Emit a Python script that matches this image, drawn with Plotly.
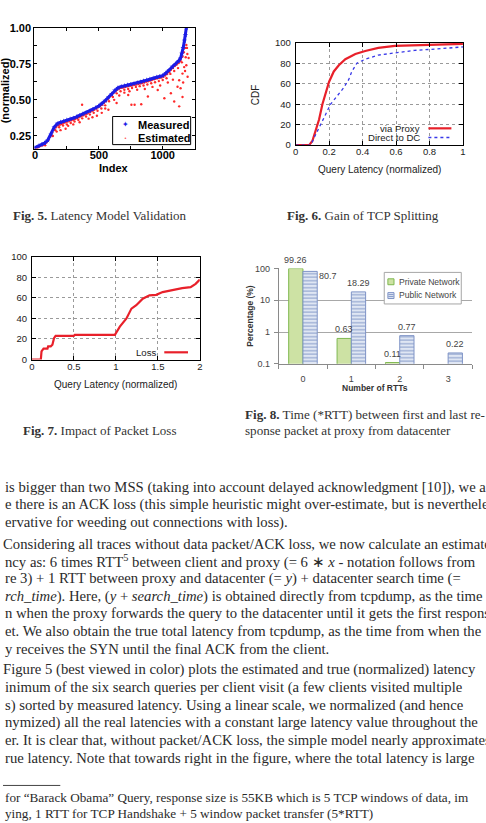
import math
import plotly.graph_objects as go

W, H = 486, 823
def px(x): return x / W
def py(y): return 1 - y / H

# ---------------- Fig. 5 data ----------------
meas_idx = [0, 25, 50, 75, 100, 125, 150, 175, 200, 225, 250, 275, 300, 325, 350, 375, 400,
            425, 450, 475, 500, 525, 550, 575, 600, 625, 650, 675, 700, 725, 750, 775, 800,
            825, 850, 875, 900, 925, 950, 975, 1000, 1025, 1050, 1075, 1100, 1125, 1140,
            1150, 1160, 1170, 1178, 1185]
meas_lat = [0.168, 0.180, 0.190, 0.200, 0.220, 0.260, 0.310, 0.335, 0.345, 0.352, 0.360,
            0.367, 0.373, 0.382, 0.392, 0.402, 0.412, 0.422, 0.433, 0.445, 0.458, 0.474,
            0.495, 0.518, 0.540, 0.565, 0.583, 0.592, 0.597, 0.602, 0.607, 0.612, 0.618,
            0.623, 0.630, 0.637, 0.643, 0.650, 0.657, 0.662, 0.668, 0.685, 0.705, 0.730,
            0.750, 0.770, 0.790, 0.820, 0.860, 0.910, 0.950, 1.000]

est_band_idx = [0, 15, 30, 45, 60, 75, 90, 105, 120, 135, 150, 165, 180, 195, 210, 225, 240,
                255, 270, 285, 300, 315, 330, 345, 360, 375, 390, 405, 420, 435, 450, 465,
                480, 495, 510, 525, 540, 555, 570, 585, 600, 615, 630, 645, 660, 675, 690,
                705, 720, 735, 750, 765, 780, 795, 810, 825, 840, 855, 870, 885, 900, 915,
                930, 945, 960, 975, 990, 1005, 1020, 1035, 1050, 1065, 1080, 1095, 1110,
                1125, 1140, 1155, 1165, 1175, 1185]
est_band_lat = [0.160, 0.170, 0.175, 0.180, 0.186, 0.192, 0.205, 0.222, 0.245, 0.275, 0.295,
                0.310, 0.322, 0.328, 0.333, 0.340, 0.345, 0.349, 0.353, 0.358, 0.362, 0.368,
                0.373, 0.380, 0.386, 0.392, 0.398, 0.404, 0.410, 0.418, 0.425, 0.432, 0.440,
                0.448, 0.458, 0.466, 0.478, 0.490, 0.505, 0.522, 0.530, 0.548, 0.560, 0.570,
                0.578, 0.583, 0.586, 0.590, 0.592, 0.596, 0.598, 0.601, 0.604, 0.607, 0.610,
                0.613, 0.617, 0.620, 0.625, 0.629, 0.633, 0.638, 0.642, 0.646, 0.650, 0.652,
                0.655, 0.660, 0.668, 0.680, 0.692, 0.708, 0.720, 0.735, 0.745, 0.755, 0.770,
                0.800, 0.830, 0.860, 0.880]
est_low_idx = [20, 80, 130, 160, 190, 220, 250, 280, 310, 340, 370, 400, 430, 460, 490, 520,
               550, 580, 610, 640, 670, 700, 730, 760, 790, 820, 850, 880, 910, 940, 970,
               1000, 1030, 1060, 1090, 1120, 1150]
est_low_lat = [0.165, 0.185, 0.255, 0.290, 0.310, 0.322, 0.330, 0.340, 0.350, 0.360, 0.372,
               0.385, 0.398, 0.410, 0.425, 0.440, 0.462, 0.490, 0.520, 0.545, 0.560, 0.570,
               0.575, 0.582, 0.590, 0.595, 0.600, 0.606, 0.615, 0.622, 0.630, 0.638, 0.650,
               0.680, 0.700, 0.720, 0.760]
est_out_idx = [369, 200, 240, 485, 523, 575, 639, 755, 780, 832, 730, 884, 961, 1013, 1064,
               1116, 1129, 1155, 1168, 1180, 1193, 1203, 1155, 1090, 1129, 1140, 1160, 1175,
               1185, 1190, 1195, 620, 660, 700, 740, 800, 860, 920, 980, 1040, 1080, 140, 170,
               260, 300, 350, 420, 450, 550]
est_out_lat = [0.466, 0.290, 0.300, 0.390, 0.410, 0.432, 0.478, 0.466, 0.466, 0.470, 0.534,
               0.523, 0.568, 0.511, 0.546, 0.591, 0.636, 0.682, 0.727, 0.795, 0.818, 0.790,
               0.520, 0.489, 0.455, 0.580, 0.620, 0.700, 0.740, 0.860, 0.660, 0.500, 0.530,
               0.550, 0.560, 0.570, 0.575, 0.590, 0.600, 0.620, 0.640, 0.250, 0.280, 0.320,
               0.330, 0.345, 0.370, 0.380, 0.440]

# ---------------- Fig. 6 data ----------------
proxy_lat = [0.0, 0.081, 0.10, 0.12, 0.14, 0.16, 0.18, 0.20, 0.228, 0.258, 0.297, 0.357,
             0.416, 0.494, 0.593, 0.75, 1.0]
proxy_cdf = [0, 0, 4, 14, 25, 40, 52, 62, 72, 78, 84, 89, 92, 95, 97, 98, 99]
direct_lat = [0.0, 0.09, 0.11, 0.14, 0.18, 0.209, 0.248, 0.287, 0.317, 0.336, 0.366, 0.416,
              0.494, 0.593, 0.711, 0.848, 1.0]
direct_cdf = [0, 0, 7, 17, 30, 40, 48, 56, 64, 72, 80, 84, 88, 90, 92.6, 94, 96]

# ---------------- Fig. 7 data ----------------
loss_lat = [0.0, 0.106, 0.114, 0.138, 0.185, 0.193, 0.224, 0.244, 0.263, 0.282, 0.498, 0.51,
            0.988, 1.047, 1.126, 1.185, 1.243, 1.32, 1.40, 1.48, 1.557, 1.675, 1.79, 1.89,
            1.95, 2.0]
loss_cdf = [0, 0, 8, 10.6, 10.6, 12.8, 12.8, 14.4, 20.8, 23, 23, 24, 24, 32, 40, 49.6, 52.9,
            59.2, 62.5, 63, 65.7, 67.9, 69.5, 70.5, 73.7, 77.9]

# ---------------- Fig. 8 data ----------------
rtt_cats = ["0", "1", "2", "3"]
private_pct = [99.26, 0.63, 0.11, None]
public_pct = [80.7, 18.29, 0.77, 0.22]

# ---------------- Text ----------------
captions = [
    "<b>Fig. 5.</b> Latency Model Validation",
    "<b>Fig. 6.</b> Gain of TCP Splitting",
    "<b>Fig. 7.</b> Impact of Packet Loss",
    "<b>Fig. 8.</b> Time (*RTT) between first and last re-",
    "sponse packet at proxy from datacenter",
]
body_lines = [
    "is bigger than two MSS (taking into account delayed acknowledgment [10]), we as",
    "e there is an ACK loss (this simple heuristic might over-estimate, but is nevertheles",
    "ervative for weeding out connections with loss).",
    "Considering all traces without data packet/ACK loss, we now calculate an estimated",
    "ncy as: 6 times RTT<sup>5</sup> between client and proxy (= 6 \u2217 <i>x</i> - notation follows from",
    "re 3) + 1 RTT between proxy and datacenter (= <i>y</i>) + datacenter search time (=",
    "<i>rch_time</i>). Here, (<i>y</i> + <i>search_time</i>) is obtained directly from tcpdump, as the time",
    "n when the proxy forwards the query to the datacenter until it gets the first response",
    "et. We also obtain the true total latency from tcpdump, as the time from when the",
    "y receives the SYN until the final ACK from the client.",
    "Figure 5 (best viewed in color) plots the estimated and true (normalized) latency",
    "inimum of the six search queries per client visit (a few clients visited multiple",
    "s) sorted by measured latency. Using a linear scale, we normalized (and hence",
    "nymized) all the real latencies with a constant large latency value throughout the",
    "er. It is clear that, without packet/ACK loss, the simple model nearly approximates",
    "rue latency. Note that towards right in the figure, where the total latency is large",
]
body_y = [488.3, 505.7, 523.3, 545, 562.7, 580, 598.3, 615.7, 633.3, 651.7, 672.7, 690.7,
          709, 726.7, 744.3, 762.3]
body_x = [0, 0, 0, -2, 0, 0, 0, 0, 0, 0, -2, 0, 0, 0, 0, 0]
foot_lines = [
    "for \u201cBarack Obama\u201d Query, response size is 55KB which is 5 TCP windows of data, im",
    "ying, 1 RTT for TCP Handshake + 5 window packet transfer (5*RTT)",
]
foot_y = [802.7, 818.3]
fig5_legend = ["Measured", "Estimated"]
fig6_legend = ["via Proxy", "Direct to DC"]
fig7_legend = ["Loss"]
fig8_legend = ["Private Network", "Public Network"]

SANS = "Liberation Sans"
SERIF = "Liberation Serif"
RED = "#e8202a"
BLUE6 = "#3838e8"
GREEN_FILL, GREEN_LINE = "#cde2a4", "#7fb850"
BLUE_FILL, BLUE_LINE, BLUE_STRIPE = "#dfe6f3", "#7e93c6", "#6f88bf"

fig = go.Figure()

# Fig 5
fig.add_trace(go.Scatter(x=est_band_idx + est_low_idx + est_out_idx,
                         y=est_band_lat + est_low_lat + est_out_lat,
                         mode="markers", name=fig5_legend[1], showlegend=False,
                         marker=dict(color="#ff2a2a", size=2.4, line=dict(width=0)),
                         xaxis="x", yaxis="y"))
fig.add_trace(go.Scatter(x=meas_idx, y=meas_lat, mode="lines+markers", name=fig5_legend[0],
                         showlegend=False, line=dict(color="#1c1ce6", width=3),
                         marker=dict(color="#1c1ce6", size=4, symbol="star"),
                         xaxis="x", yaxis="y"))

# Fig 6
fig.add_trace(go.Scatter(x=proxy_lat, y=proxy_cdf, mode="lines", showlegend=False,
                         line=dict(color=RED, width=2.2), xaxis="x2", yaxis="y2"))
fig.add_trace(go.Scatter(x=direct_lat, y=direct_cdf, mode="lines", showlegend=False,
                         line=dict(color=BLUE6, width=1.3, dash="dot"),
                         xaxis="x2", yaxis="y2"))

# Fig 7
fig.add_trace(go.Scatter(x=loss_lat, y=loss_cdf, mode="lines", showlegend=False,
                         line=dict(color=RED, width=2.2), xaxis="x3", yaxis="y3"))

# Fig 8
fig.add_trace(go.Bar(x=rtt_cats, y=private_pct, name=fig8_legend[0], showlegend=False,
                     marker=dict(color=GREEN_FILL, line=dict(color=GREEN_LINE, width=1)),
                     xaxis="x4", yaxis="y4"))
fig.add_trace(go.Bar(x=rtt_cats, y=public_pct, name=fig8_legend[1], showlegend=False,
                     marker=dict(color=BLUE_FILL, line=dict(color=BLUE_LINE, width=1),
                                 pattern=dict(shape="-", fgcolor=BLUE_STRIPE, bgcolor=BLUE_FILL,
                                              size=3.5, solidity=0.45)),
                     xaxis="x4", yaxis="y4"))

annotations = []
shapes = []

def ann(text, x, y, size, family=SANS, color="#111", xanchor="center", angle=0,
        weight="normal"):
    annotations.append(dict(text=text, x=px(x), y=py(y), xref="paper", yref="paper",
                            xanchor=xanchor, yanchor="middle", showarrow=False,
                            textangle=angle,
                            font=dict(family=family, size=size, color=color, weight=weight)))

def hline(x0, x1, y, color, width=1, dash="solid"):
    shapes.append(dict(type="line", xref="paper", yref="paper", x0=px(x0), x1=px(x1),
                       y0=py(y), y1=py(y), line=dict(color=color, width=width, dash=dash)))

def rect(x0, y0, x1, y1, line, fill="white", width=1):
    shapes.append(dict(type="rect", xref="paper", yref="paper", x0=px(x0), x1=px(x1),
                       y0=py(y1), y1=py(y0), line=dict(color=line, width=width),
                       fillcolor=fill, layer="above"))

# Fig 5 labels and legend box
ann("Index", 112, 164.5, 11, weight="bold", color="#000")
ann("(normalized)", 1.5, 85, 11, angle=-90, weight="bold", color="#000")
rect(111, 112, 190, 140.5, "#000")
ann("\u2726", 124, 120.5, 8, family="DejaVu Sans", color="#1c1ce6")
ann("\u2022", 124, 134, 5, family="DejaVu Sans", color="#ff2a2a")
ann(fig5_legend[0], 135, 120.5, 11, weight="bold", color="#000", xanchor="left")
ann(fig5_legend[1], 135, 134, 11, weight="bold", color="#000", xanchor="left")

# Fig 6 labels
ann("CDF", 255.5, 90, 10, angle=-90, color="#222")
ann("Query Latency (normalized)", 380.7, 166, 10, color="#222")
ann(fig6_legend[0], 424, 123.7, 9.6, xanchor="right", color="#222")
ann(fig6_legend[1], 424, 133.5, 9.6, xanchor="right", color="#222")
hline(430.7, 454, 124, RED, 2.2)
hline(430.7, 454, 133.3, BLUE6, 1.3, "dot")

# Fig 7 labels
ann("Query Latency (normalized)", 114.3, 384, 10, color="#222")
ann(fig7_legend[0], 156.7, 351, 9.6, xanchor="right", color="#222")
hline(163.3, 187.3, 351, RED, 2.2)

# Fig 8 labels and legend box
ann("Percentage (%)", 250, 314, 8.5, angle=-90, weight="bold", color="#333")
ann("Number of RTTs", 377, 387, 8.5, weight="bold", color="#333")
rect(386, 270, 464, 302, "#a6a6a6")
rect(389.7, 276.5, 395.9, 282.5, GREEN_LINE, GREEN_FILL)
rect(389.7, 290.5, 395.9, 296.5, BLUE_LINE, BLUE_FILL)
hline(390.2, 395.4, 292.5, BLUE_STRIPE, 0.8)
hline(390.2, 395.4, 294.5, BLUE_STRIPE, 0.8)
ann(fig8_legend[0], 399, 279.3, 8.6, color="#444", xanchor="left")
ann(fig8_legend[1], 399, 293.3, 8.6, color="#444", xanchor="left")

# Bar value labels (positions from data via axes)
bw = (1 - 0.41) / 2
for i, v in enumerate(private_pct):
    if v is not None:
        annotations.append(dict(text=str(v), x=i - bw / 2, y=math.log10(v), xref="x4", yref="y4",
                                yanchor="bottom", yshift=2, showarrow=False,
                                font=dict(family=SANS, size=9, color="#444")))
for i, v in enumerate(public_pct):
    if i == 0:
        annotations.append(dict(text=str(v), x=i + bw, y=math.log10(v), xref="x4", yref="y4",
                                xanchor="left", yanchor="middle", yshift=-5, showarrow=False,
                                font=dict(family=SANS, size=9, color="#444")))
    else:
        annotations.append(dict(text=str(v), x=i + bw / 2, y=math.log10(v), xref="x4", yref="y4",
                                yanchor="bottom", yshift=2, showarrow=False,
                                font=dict(family=SANS, size=9, color="#444")))

# Captions
ann(captions[0], 98, 212, 13, family=SERIF, color="#333")
ann(captions[1], 364.5, 212, 13, family=SERIF, color="#333")
ann(captions[2], 97.5, 430.7, 13, family=SERIF, color="#333")
ann(captions[3], 243.5, 414, 13.1, family=SERIF, color="#333", xanchor="left")
ann(captions[4], 243.5, 430.5, 13.1, family=SERIF, color="#333", xanchor="left")

# Body text
for t, yy, xx in zip(body_lines, body_y, body_x):
    ann(t, xx, yy, 14.7, family=SERIF, color="#2a2a2a", xanchor="left")
for t, yy in zip(foot_lines, foot_y):
    ann(t, 0, yy, 13.2, family=SERIF, color="#2a2a2a", xanchor="left")
hline(0, 58, 790, "#444", 1)

bold_tick = dict(family=SANS, size=11, color="#000", weight="bold")
reg_tick = dict(family=SANS, size=9.5, color="#222")
gp_axis = dict(ticks="inside", ticklen=4, tickcolor="#000", mirror="ticks", showline=True,
               linecolor="#000", linewidth=1, showgrid=True, gridcolor="#9a9a9a",
               griddash="dot", gridwidth=1, zeroline=False, tickfont=reg_tick)

fig.update_layout(
    width=W, height=H, margin=dict(l=0, r=0, t=0, b=0),
    paper_bgcolor="white", plot_bgcolor="white", showlegend=False,
    barmode="group", bargap=0.41, bargroupgap=0,
    annotations=annotations, shapes=shapes,
    xaxis=dict(domain=[px(31.7), px(194.3)], anchor="y", range=[-5, 1252],
               tickvals=[0, 500, 1000], ticktext=["0", "500", "1000"],
               minor=dict(tickvals=[250, 750], ticks="inside", ticklen=3, tickcolor="#000"),
               ticks="inside", ticklen=3, tickcolor="#000", mirror="ticks", showline=True,
               linecolor="#000", linewidth=1, showgrid=False, zeroline=False, tickfont=bold_tick,
               ticklabelstandoff=-4),
    yaxis=dict(domain=[py(144.5), py(22)], anchor="x", range=[0.1625, 1.0],
               tickvals=[0.25, 0.5, 0.75, 1.0], ticktext=["0.25", "0.50", "0.75", "1.00"],
               minor=dict(tickvals=[0.375, 0.625, 0.875], ticks="inside", ticklen=3,
                          tickcolor="#000"),
               ticks="inside", ticklen=3, tickcolor="#000", mirror="ticks", showline=True,
               linecolor="#000", linewidth=1, showgrid=False, zeroline=False, tickfont=bold_tick),
    xaxis2=dict(domain=[px(296.3), px(465.7)], anchor="y2", range=[0, 1],
                tickvals=[0, 0.2, 0.4, 0.6, 0.8, 1], ticktext=["0", "0.2", "0.4", "0.6", "0.8", "1"],
                ticklabelstandoff=-3, **gp_axis),
    yaxis2=dict(domain=[py(141), py(37.3)], anchor="x2", range=[0, 100], dtick=20,
                ticklabelstandoff=2, **gp_axis),
    xaxis3=dict(domain=[px(29.3), px(199.3)], anchor="y3", range=[0, 2],
                tickvals=[0, 0.5, 1, 1.5, 2], ticktext=["0", "0.5", "1", "1.5", "2"],
                ticklabelstandoff=-2, **gp_axis),
    yaxis3=dict(domain=[py(358.3), py(254.3)], anchor="x3", range=[0, 100], dtick=20,
                ticklabelstandoff=2, **gp_axis),
    xaxis4=dict(domain=[px(279.2), px(475.2)], anchor="y4", type="category",
                range=[-0.5, 3.5], ticks="outside", tickson="boundaries", ticklen=4,
                tickcolor="#8a8a8a", showline=True, linecolor="#8a8a8a", showgrid=False,
                zeroline=False, tickfont=dict(family=SANS, size=9, color="#444"),
                ticklabelstandoff=6),
    yaxis4=dict(domain=[py(362.7), py(266)], anchor="x4", type="log", range=[-1, 2],
                tickvals=[0.1, 1, 10, 100], ticktext=["0.1", "1", "10", "100"],
                ticks="outside", ticklen=4, tickcolor="#8a8a8a", showline=True,
                linecolor="#8a8a8a", showgrid=True, gridcolor="#a8a8a8", zeroline=False,
                tickfont=dict(family=SANS, size=9, color="#444"), ticklabelstandoff=2),
)

fig.write_html("out.html")
